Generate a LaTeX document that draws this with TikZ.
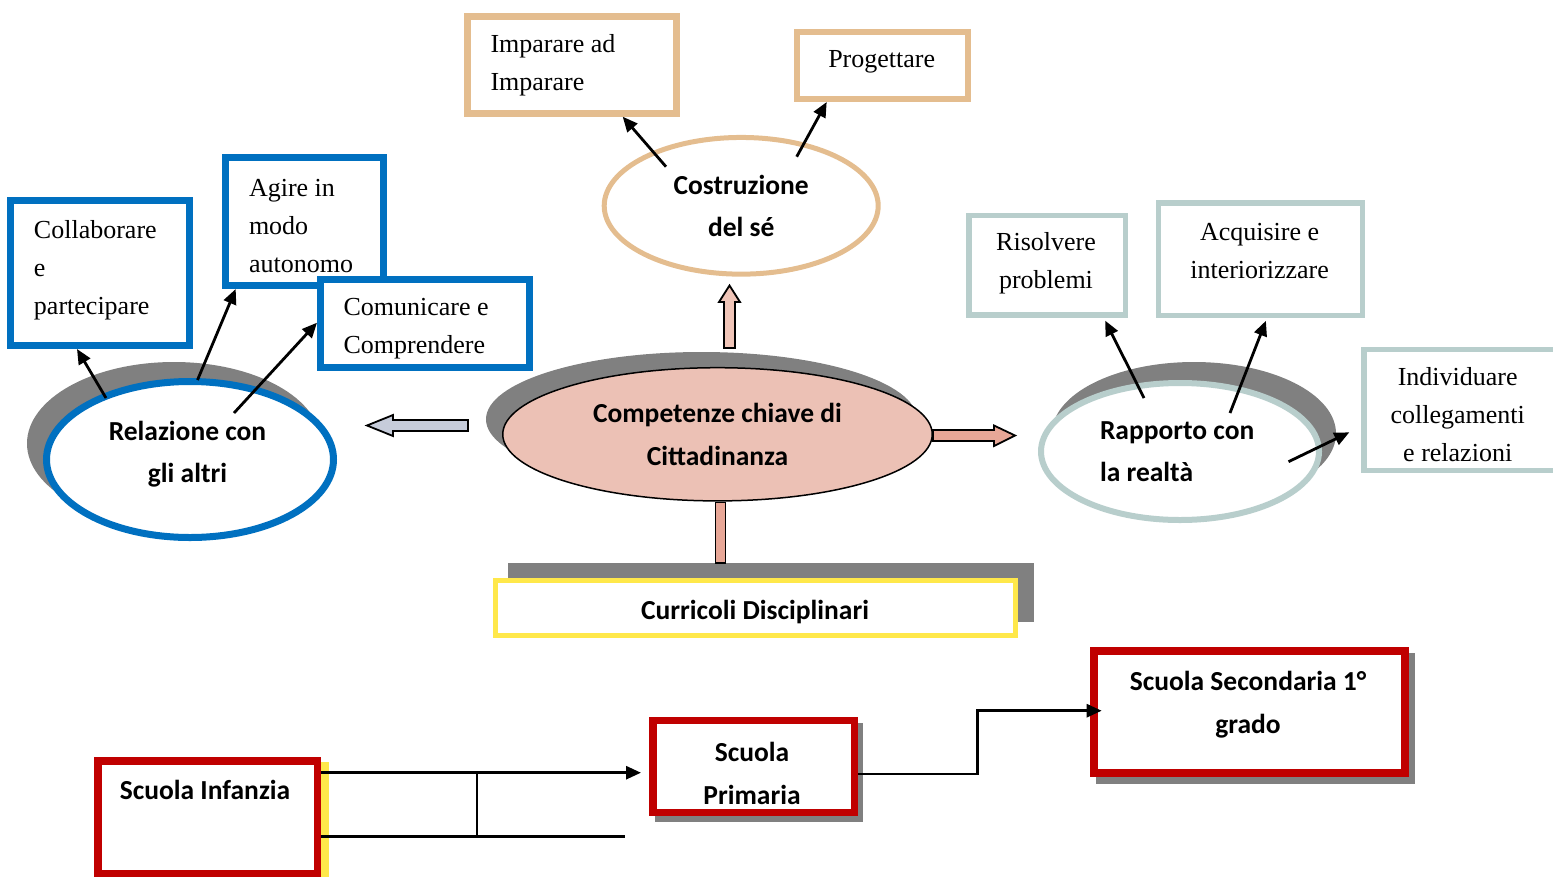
\documentclass[tikz,border=0pt]{standalone}
\usepackage{fontspec}
\setmainfont{Liberation Serif}
\newfontfamily\calfont{Carlito}
\usetikzlibrary{arrows.meta,shapes.geometric,calc}
\definecolor{cTan}{HTML}{E4BD8F}
\definecolor{cBlue}{HTML}{0070C0}
\definecolor{cGB}{HTML}{B8CECC}
\definecolor{cRed}{HTML}{C00000}
\definecolor{cYel}{HTML}{FFE84A}
\definecolor{cPink}{HTML}{ECC1B5}
\definecolor{cArrPink}{HTML}{E8A797}
\definecolor{cArrLight}{HTML}{F0C5B8}
\definecolor{cArrBlue}{HTML}{C6CCDA}
\definecolor{cShadow}{HTML}{808080}
\begin{document}
\begin{tikzpicture}[x=1pt,y=-1pt,
  serif/.style={font=\fontsize{26}{38}\selectfont, inner sep=0, outer sep=0},
  bold/.style={font=\calfont\bfseries\fontsize{27.5}{42.5}\selectfont, inner sep=0, outer sep=0, align=center},
  boxbase/.style={rectangle, fill=white, inner sep=0},
  tanbox/.style={boxbase, draw=cTan},
  bluebox/.style={boxbase, draw=cBlue, line width=7},
  gbbox/.style={boxbase, draw=cGB, line width=5.5},
  redbox/.style={boxbase, draw=cRed, line width=7.5},
  ellbase/.style={ellipse, inner sep=0},
  conn/.style={line width=2.8, -{Triangle[length=15,width=13]}},
  plainline/.style={line width=2.8},
  blockarrow/.style={draw=black, line width=1.8, line join=miter},
]
\useasboundingbox (0,0) rectangle (1553,876);

% ---------- shadows ----------
\fill[cShadow] (174,443.5) ellipse [x radius=147, y radius=81.5];
\fill[cShadow] (701.5,419.3) ellipse [x radius=215.5, y radius=67.3];
\fill[cShadow] (1194,433.5) ellipse [x radius=142, y radius=71.5];
\fill[cShadow] (508,562.7) rectangle (1034,621.7);
\fill[cShadow] (655,723) rectangle (863,821.7);
\fill[cShadow] (1096,653) rectangle (1415,784);
\fill[cYel] (321,761.7) rectangle (328.5,877);

% ---------- ellipses ----------
\node[ellbase, draw=cTan, line width=5, fill=white, minimum width=274, minimum height=136.7, bold] (cos) at (741.2,205.8) {Costruzione\\del sé};
\node[ellbase, draw=black, line width=1.5, fill=cPink, minimum width=429.5, minimum height=133.2, bold] (comp) at (717.5,434.3) {Competenze chiave di\\Cittadinanza};
\node[ellbase, draw=cBlue, line width=7, fill=white, minimum width=287, minimum height=156] (rel) at (190,459.5) {};
\node[ellbase, draw=cGB, line width=6, fill=white, minimum width=278, minimum height=137] (rap) at (1180,451.5) {};

% ---------- boxes ----------
\node[tanbox, line width=7, minimum width=209, minimum height=97] (imp) at (572,64.7) {};
\node[tanbox, line width=6, minimum width=171.5, minimum height=67] (prog) at (882.7,65.5) {};
\node[bluebox, minimum width=179, minimum height=145] (col) at (100,273) {};
\node[bluebox, minimum width=158.5, minimum height=128] (agi) at (304.7,221.5) {};
\node[bluebox, minimum width=209, minimum height=88] (com) at (425,323.5) {};
\node[gbbox, minimum width=156.5, minimum height=99.7] (ris) at (1047,265.3) {};
\node[gbbox, minimum width=203.7, minimum height=112.5] (acq) at (1260.4,259) {};
\node[gbbox, minimum width=198.3, minimum height=120.7] (ind) at (1462.9,409.9) {};
\node[boxbase, draw=cYel, line width=5, minimum width=520, minimum height=55] (cur) at (755,608) {};
\node[redbox, minimum width=219.5, minimum height=112.5] (inf) at (207.5,817) {};
\node[redbox, minimum width=201.5, minimum height=91.8] (prim) at (753.5,766.4) {};
\node[redbox, line width=8, minimum width=311, minimum height=122] (sec) at (1249.5,711.7) {};

% ---------- block arrows ----------
\draw[blockarrow, fill=cArrLight] (724,348) -- (724,302) -- (719,302) -- (729.5,285.5) -- (740,302) -- (735,302) -- (735,348) -- cycle;
\draw[blockarrow, fill=cArrBlue] (468,420) -- (393,420) -- (393,415) -- (367,425.5) -- (393,436) -- (393,431) -- (468,431) -- cycle;
\draw[blockarrow, fill=cArrPink] (933,430) -- (994,430) -- (994,425.5) -- (1015,435.5) -- (994,446) -- (994,441) -- (933,441) -- cycle;
\draw[blockarrow, fill=cArrPink] (715.5,502.5) rectangle (725.5,562.7);

% ---------- connectors ----------
\coordinate (s1) at (666,166.7);
\coordinate (s2) at (796.7,156.7);
\coordinate (s3) at (106,398);
\coordinate (s4) at (197.5,380);
\coordinate (s5) at (234,413);
\coordinate (s6) at (1144,398);
\coordinate (s7) at (1230,413);
\coordinate (s8) at (1288.5,461.7);
\draw[conn] (s1) -- (imp.south -| 622.7,0);
\draw[conn] (s2) -- (prog.south -| 826.7,0);
\draw[conn] (s3) -- (col.south -| 77,0);
\draw[conn] (s4) -- (agi.south -| 235.7,0);
\draw[conn] (s5) -- (com.west |- 0,322.7);
\draw[conn, shorten >=3] (s6) -- (ris.south -| 1103.8,0);
\draw[conn, shorten >=3] (s7) -- (acq.south -| 1267,0);
\draw[conn, shorten >=13] (s8) -- (ind.west |- 0,426.7);

\coordinate (infEnd) at (625,836.7);
\coordinate (jTop) at (477,772.7);
\coordinate (jBot) at (477,836.7);
\coordinate (bend) at (977.7,710.7);
\draw[conn, shorten >=8] (inf.east |- 0,772.7) -- (prim.west |- 0,772.7);
\draw[plainline] (inf.east |- 0,836.7) -- (infEnd);
\draw[plainline] (jTop) -- (jBot);
\draw[conn] (prim.east |- 0,774) -| (bend) -- ($(sec.west |- bend)+(11.7,0)$);

% ---------- texts ----------
\node[serif, anchor=west, align=left] (impT) at (490.5,65.5) {Imparare ad\\Imparare};
\node[serif] (progT) at (881.7,62) {Progettare};
\node[serif, anchor=west, align=left] (colT) at (34,270) {Collaborare\\e\\partecipare};
\node[serif, anchor=west, align=left] (agiT) at (249,226.5) {Agire in\\modo\\autonomo};
\node[serif, anchor=west, align=left] (comT) at (343.6,329) {Comunicare e\\Comprendere};
\node[serif, align=center] (risT) at (1046,263.5) {Risolvere\\problemi};
\node[serif, align=center] (acqT) at (1259.6,251) {Acquisire e\\interiorizzare};
\node[serif, align=center] (indT) at (1457.7,414.5) {Individuare\\collegamenti\\e relazioni};
\node[bold] (relT) at (187.5,454) {Relazione con\\gli altri};
\node[bold, align=left, anchor=west] (rapT) at (1100,451.5) {Rapporto con\\la realtà};
\node[bold] (curT) at (755,612.5) {Curricoli Disciplinari};
\node[bold] (infT) at (205,789.5) {Scuola Infanzia};
\node[bold] (primT) at (752,773.3) {Scuola\\Primaria};
\node[bold] (secT) at (1248,704.5) {Scuola Secondaria 1°\\grado};
\end{tikzpicture}
\end{document}
